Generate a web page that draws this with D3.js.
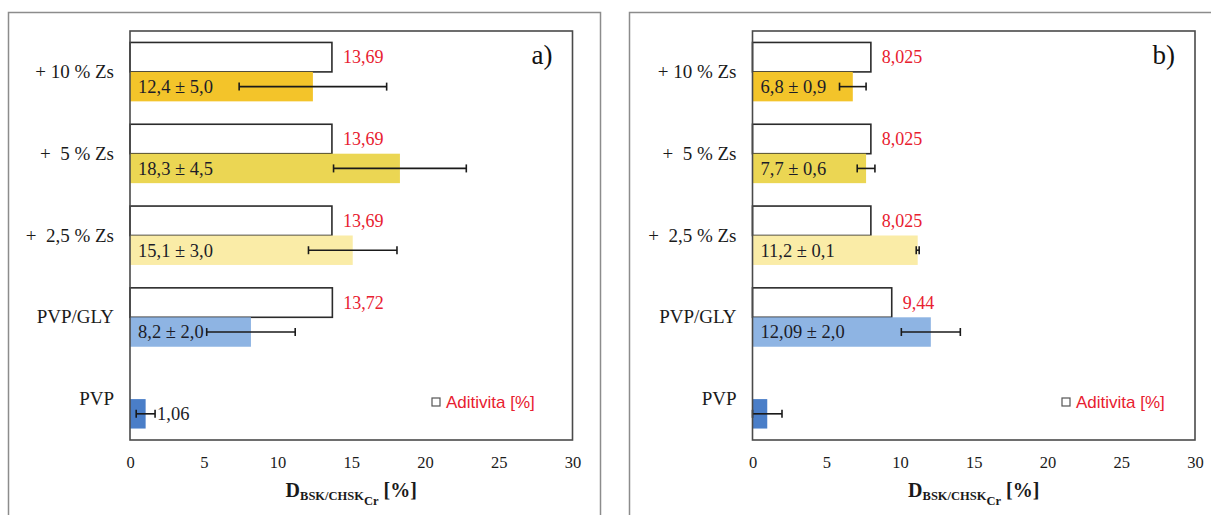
<!DOCTYPE html>
<html>
<head>
<meta charset="utf-8">
<script src="https://cdn.jsdelivr.net/npm/d3@7"></script>
<style>
  body { margin: 0; background: #fff; }
  svg { display: block; }
  .tick text { fill: #1a1a1a; }
</style>
</head>
<body>
<svg id="chart" width="1211" height="515"></svg>
<script>
// categories, top to bottom as drawn
const categories = ["+ 10 % Zs", "+  5 % Zs", "+  2,5 % Zs", "PVP/GLY", "PVP"];
const barColors = ["#f3c42a", "#ebd653", "#faeca7", "#8eb4e3", "#4a7ec8"];

// panel a)
const additivityA = [13.69, 13.69, 13.69, 13.72, null];
const meansA = [12.4, 18.3, 15.1, 8.2, 1.06];
const errorsA = [5.0, 4.5, 3.0, 3.0, 0.64];
const labelsA = ["12,4 ± 5,0", "18,3 ± 4,5", "15,1 ± 3,0", "8,2 ± 2,0", "1,06"];

// panel b)
const additivityB = [8.025, 8.025, 8.025, 9.44, null];
const meansB = [6.8, 7.7, 11.2, 12.09, 1.0];
const errorsB = [0.9, 0.6, 0.1, 2.0, 1.0];
const labelsB = ["6,8 ± 0,9", "7,7 ± 0,6", "11,2 ± 0,1", "12,09 ± 2,0", ""];

const xTicks = [0, 5, 10, 15, 20, 25, 30];
const legendText = "Aditivita [%]";

const serif = "'Liberation Serif', 'Times New Roman', serif";
const svg = d3.select("#chart");

function drawPanel(cfg) {
  const {frameX, left, right, top, bottom, letter, legendX, additivity, means, errors, labels} = cfg;

  // outer frame of the picture
  svg.append("rect")
    .attr("x", frameX).attr("y", 12.5)
    .attr("width", 592).attr("height", 560)
    .attr("fill", "none").attr("stroke", "#8c8c8c").attr("stroke-width", 1.5);

  const x = d3.scaleLinear().domain([0, 30]).range([left, right]);
  const y = d3.scaleBand().domain(categories).range([top, bottom])
    .paddingInner(0.28).paddingOuter(0.14);
  const sub = d3.scaleBand().domain(["add", "val"]).range([0, y.bandwidth()]);

  const g = svg.append("g");

  const rows = categories.map((c, i) => ({
    cat: c, color: barColors[i], add: additivity[i],
    mean: means[i], err: errors[i], label: labels[i]
  }));

  // additivity bars (white, outlined)
  g.selectAll(".add").data(rows.filter(d => d.add != null)).enter()
    .append("rect")
      .attr("x", x(0))
      .attr("y", d => y(d.cat) + sub("add"))
      .attr("width", d => x(d.add) - x(0))
      .attr("height", sub.bandwidth())
      .attr("fill", "#fff").attr("stroke", "#2b2b2b").attr("stroke-width", 1.6);

  g.selectAll(".addlab").data(rows.filter(d => d.add != null)).enter()
    .append("text")
      .attr("x", d => x(d.add) + 11)
      .attr("y", d => y(d.cat) + sub("add") + sub.bandwidth() / 2)
      .attr("dy", "0.35em")
      .attr("font-family", serif).attr("font-size", 18)
      .attr("fill", "#e8202f")
      .text(d => String(d.add).replace(".", ","));

  // measured bars
  g.selectAll(".val").data(rows).enter()
    .append("rect")
      .attr("x", x(0))
      .attr("y", d => y(d.cat) + sub("val"))
      .attr("width", d => x(d.mean) - x(0))
      .attr("height", sub.bandwidth())
      .attr("fill", d => d.color);

  // error bars
  const eb = g.selectAll(".err").data(rows).enter().append("g")
    .attr("transform", d => `translate(0,${y(d.cat) + sub("val") + sub.bandwidth() / 2})`)
    .attr("stroke", "#1a1a1a").attr("stroke-width", 1.6);
  eb.append("line")
    .attr("x1", d => x(d.mean - d.err)).attr("x2", d => x(d.mean + d.err));
  eb.append("line")
    .attr("x1", d => x(d.mean - d.err)).attr("x2", d => x(d.mean - d.err))
    .attr("y1", -4).attr("y2", 4);
  eb.append("line")
    .attr("x1", d => x(d.mean + d.err)).attr("x2", d => x(d.mean + d.err))
    .attr("y1", -4).attr("y2", 4);

  // value labels: inside the base, or after the error bar if the bar is tiny
  g.selectAll(".vallab").data(rows).enter()
    .append("text")
      .attr("x", d => (x(d.mean) - x(0) < 40) ? x(d.mean + d.err) + 2 : x(0) + 8)
      .attr("y", d => y(d.cat) + sub("val") + sub.bandwidth() / 2)
      .attr("dy", "0.35em")
      .attr("font-family", serif).attr("font-size", 18.5)
      .attr("fill", "#1c1c28")
      .text(d => d.label);

  // plot frame
  g.append("rect")
    .attr("x", left).attr("y", top)
    .attr("width", right - left).attr("height", bottom - top)
    .attr("fill", "none").attr("stroke", "#4a4a4a").attr("stroke-width", 1.6);

  // axes
  const xAxis = g.append("g")
    .attr("transform", `translate(0,${bottom})`)
    .call(d3.axisBottom(x).tickValues(xTicks).tickSize(0).tickPadding(16));
  xAxis.select(".domain").remove();
  xAxis.selectAll("text").attr("font-family", serif).attr("font-size", 16.5);

  const yAxis = g.append("g")
    .attr("transform", `translate(${left},0)`)
    .call(d3.axisLeft(y).tickSize(0).tickPadding(16));
  yAxis.select(".domain").remove();
  yAxis.selectAll("text")
    .attr("font-family", serif).attr("font-size", 19)
    .style("white-space", "pre");

  // axis title
  const title = g.append("text")
    .attr("x", (left + right) / 2).attr("y", 497)
    .attr("text-anchor", "middle")
    .attr("font-family", serif).attr("font-weight", "bold")
    .attr("fill", "#1a1a1a");
  title.append("tspan").attr("font-size", 20).text("D");
  title.append("tspan").attr("font-size", 12.5).attr("dy", 3).text("BSK/CHSK");
  title.append("tspan").attr("font-size", 12.5).attr("dy", 5).text("Cr");
  title.append("tspan").attr("font-size", 20).attr("dy", -8).text(" [%]");

  // panel letter
  g.append("text")
    .attr("x", right - 20).attr("y", 64)
    .attr("text-anchor", "end")
    .attr("font-family", serif).attr("font-size", 27)
    .attr("fill", "#111")
    .text(letter);

  // legend
  g.append("rect")
    .attr("x", legendX).attr("y", 398)
    .attr("width", 8).attr("height", 8)
    .attr("fill", "#fff").attr("stroke", "#555").attr("stroke-width", 1.2);
  g.append("text")
    .attr("x", legendX + 14).attr("y", 402)
    .attr("dy", "0.35em")
    .attr("font-family", "'Liberation Sans', Arial, sans-serif").attr("font-size", 17)
    .attr("fill", "#e8202f")
    .text(legendText);
}

drawPanel({
  frameX: 8.5, left: 130, right: 572.5, top: 31, bottom: 440,
  letter: "a)", legendX: 432,
  additivity: additivityA, means: meansA, errors: errorsA, labels: labelsA
});

drawPanel({
  frameX: 629.5, left: 752.5, right: 1195, top: 31, bottom: 440,
  letter: "b)", legendX: 1062,
  additivity: additivityB, means: meansB, errors: errorsB, labels: labelsB
});
</script>
</body>
</html>
